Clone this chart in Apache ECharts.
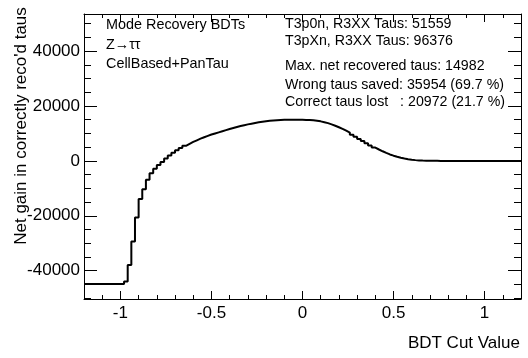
<!DOCTYPE html>
<html>
<head>
<meta charset="utf-8">
<script src="https://cdn.jsdelivr.net/npm/echarts@6/dist/echarts.min.js"></script>
<style>html,body{margin:0;padding:0;background:#fff}#c{width:528px;height:358px}</style>
</head>
<body>
<div id="c"></div>
<script>
// Histogram: BDT cut value bins (width 0.02 from -1.2 to 1.2)
const binStart = -1.2;
const binWidth = 0.02;
const netGain = [
  -44800,-44800,-44800,-44800,-44800,-44800,-44800,-44800,-44800,-44800,-44800,
  -43900,-37900,-29400,-20600,-13900,-10300,-6900,-4500,-2900,-1500,
  -400,900,2000,3000,3900,4700,5500,6200,6900,7500,
  8100,8600,9100,9600,10000,
  10400,10800,11200,11600,12000,12350,12700,13000,13300,13550,
  13800,14050,14250,14450,14600,14720,14820,14890,14940,14970,
  14982,14980,14975,14960,14930,14880,14780,14620,14400,14100,
  13750,13300,12800,12250,11650,11000,10300,9550,8800,8000,
  7200,6400,5600,4850,4150,3500,2900,2350,1900,1500,
  1150,850,600,420,280,180,110,70,40,20,10,
  0,0,0,0,0,0,0,0,0,0,0,0,0,0,0,0,0,0,0,0,0,0,0
];
const xMajor = [-1, -0.5, 0, 0.5, 1];
const xMinor = [-1.2,-1.1,-1,-0.9,-0.8,-0.7,-0.6,-0.5,-0.4,-0.3,-0.2,-0.1,0,0.1,0.2,0.3,0.4,0.5,0.6,0.7,0.8,0.9,1,1.1,1.2];
const yMajor = [-40000, -20000, 0, 20000, 40000];
const yMinor = [-50000,-45000,-40000,-35000,-30000,-25000,-20000,-15000,-10000,-5000,0,5000,10000,15000,20000,25000,30000,35000,40000,45000,50000];
const leftText = ["Mode Recovery BDTs", "Z\u2192\u03c4\u03c4", "CellBased+PanTau"];
const rightText = ["T3p0n, R3XX Taus: 51559", "T3pXn, R3XX Taus: 96376", "Max. net recovered taus: 14982", "Wrong taus saved: 35954 (69.7 %)", "Correct taus lost   : 20972 (21.7 %)"];

const X_MIN = -1.2, X_MAX = 1.2, Y_MIN = -50300, Y_MAX = 53500;
const FONT = "'Liberation Sans', Arial, Helvetica, sans-serif";

const data = netGain.map((v, i) => [+(binStart + i * binWidth).toFixed(2), v]);
data.push([X_MAX, netGain[netGain.length - 1]]);

function xAx(pos, tickVals, len, showLine, showLabel) {
  return {
    type: 'value', min: X_MIN, max: X_MAX, position: pos,
    axisLine: {show: showLine, onZero: false, lineStyle: {color: '#000', width: 1}},
    axisTick: {show: true, inside: true, length: len, customValues: tickVals, lineStyle: {color: '#000', width: 1}},
    axisLabel: {show: showLabel, customValues: xMajor, margin: 6, color: '#000', fontSize: 17, fontFamily: FONT, formatter: v => String(v)},
    splitLine: {show: false}
  };
}
function yAx(pos, tickVals, len, showLine, showLabel) {
  return {
    type: 'value', min: Y_MIN, max: Y_MAX, position: pos,
    axisLine: {show: showLine, onZero: false, lineStyle: {color: '#000', width: 1}},
    axisTick: {show: true, inside: true, length: len, customValues: tickVals, lineStyle: {color: '#000', width: 1}},
    axisLabel: {show: showLabel, customValues: yMajor, margin: 4, color: '#000', fontSize: 17, fontFamily: FONT, formatter: v => String(v)},
    splitLine: {show: false}
  };
}

const chart = echarts.init(document.getElementById('c'), null, {renderer: 'canvas'});
const graphics = [];
const leftY = [25, 45, 64];
const rightY = [24, 41, 66, 85, 102.5];
leftText.forEach((t, i) => graphics.push({type: 'text', x: 106, y: leftY[i],
  style: {text: t, font: '14.4px ' + FONT, fill: '#000', align: 'left', verticalAlign: 'middle'}}));
rightText.forEach((t, i) => graphics.push({type: 'text', x: 285, y: rightY[i],
  style: {text: t, font: '14.2px ' + FONT, fill: '#000', align: 'left', verticalAlign: 'middle'}}));
graphics.push({type: 'text', x: 520, y: 343, style: {text: 'BDT Cut Value', font: '17px ' + FONT, fill: '#000', align: 'right', verticalAlign: 'middle'}});
graphics.push({type: 'text', x: 21, y: 126, rotation: Math.PI / 2, style: {text: "Net gain in correctly reco'd taus", font: '17px ' + FONT, fill: '#000', align: 'center', verticalAlign: 'middle'}});

chart.setOption({
  animation: false,
  backgroundColor: '#fff',
  grid: {left: 84, right: 7, top: 14, bottom: 59, containLabel: false},
  xAxis: [
    xAx('bottom', xMajor, 8, true, true),
    xAx('bottom', xMinor, 4, false, false),
    xAx('top', xMajor, 8, true, false),
    xAx('top', xMinor, 4, false, false)
  ],
  yAxis: [
    yAx('left', yMajor, 13, true, true),
    yAx('left', yMinor, 7, false, false),
    yAx('right', yMajor, 13, true, false),
    yAx('right', yMinor, 7, false, false)
  ],
  series: [{
    type: 'line', step: 'end', data: data, xAxisIndex: 0, yAxisIndex: 0,
    showSymbol: false, symbol: 'none', lineStyle: {color: '#000', width: 2}, silent: true
  }],
  graphic: graphics
});
</script>
</body>
</html>
